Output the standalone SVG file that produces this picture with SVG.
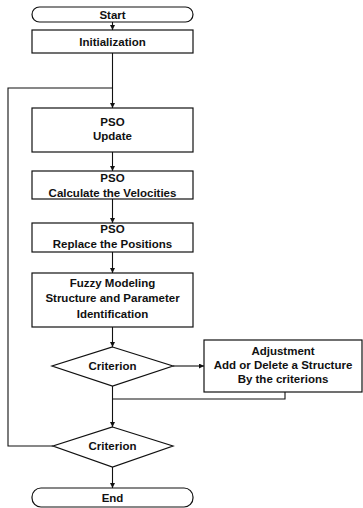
<svg xmlns="http://www.w3.org/2000/svg" width="363" height="508" viewBox="0 0 363 508">
<defs>
<marker id="ah" viewBox="0 0 6 6" refX="6" refY="3" markerWidth="5" markerHeight="5" orient="auto" markerUnits="userSpaceOnUse">
<path d="M0,0 L6,3 L0,6 z" fill="#111"/>
</marker>
</defs>
<style>
.b{fill:#fff;stroke:#111;stroke-width:1.2}
.t{font-family:"Liberation Sans",Arial,sans-serif;font-size:11.5px;font-weight:bold;fill:#111;text-anchor:middle}
.c{fill:none;stroke:#111;stroke-width:1.1}
</style>
<rect width="363" height="508" fill="#fff"/>
<g id="connectors">
<path class="c" d="M112.5,22 V30" marker-end="url(#ah)"/>
<path class="c" d="M112.5,53 V108" marker-end="url(#ah)"/>
<path class="c" d="M112.5,152 V171" marker-end="url(#ah)"/>
<path class="c" d="M112.5,199 V223" marker-end="url(#ah)"/>
<path class="c" d="M112.5,252 V273" marker-end="url(#ah)"/>
<path class="c" d="M112.5,327 V347" marker-end="url(#ah)"/>
<path class="c" d="M173,366 H204" marker-end="url(#ah)"/>
<path class="c" d="M112.5,386 V427" marker-end="url(#ah)"/>
<path class="c" d="M285,392 V399 H112.5"/>
<path class="c" d="M112.5,467 V488" marker-end="url(#ah)"/>
<path class="c" d="M53,446 H8 V88 H112.5"/>
</g>
<g id="start">
<rect class="b" x="32" y="7" width="161" height="15" rx="7.5"/>
<text class="t" x="112.5" y="18.5">Start</text>
</g>
<g id="init">
<rect class="b" x="32" y="30" width="161" height="23"/>
<text class="t" x="112.5" y="45.5">Initialization</text>
</g>
<g id="update">
<rect class="b" x="32" y="108" width="161" height="44"/>
<text class="t" x="112.5" y="126">PSO</text>
<text class="t" x="112.5" y="140">Update</text>
</g>
<g id="velocities">
<rect class="b" x="32" y="171" width="161" height="28"/>
<text class="t" x="112.5" y="182">PSO</text>
<text class="t" x="112.5" y="197">Calculate the Velocities</text>
</g>
<g id="positions">
<rect class="b" x="32" y="223" width="161" height="29"/>
<text class="t" x="112.5" y="233">PSO</text>
<text class="t" x="112.5" y="248">Replace the Positions</text>
</g>
<g id="fuzzy">
<rect class="b" x="32" y="273" width="161" height="54"/>
<text class="t" x="112.5" y="287">Fuzzy Modeling</text>
<text class="t" x="112.5" y="302">Structure and Parameter</text>
<text class="t" x="112.5" y="318">Identification</text>
</g>
<g id="criterion1">
<polygon class="b" points="112.5,347 173,366 112.5,386 52,366"/>
<text class="t" x="112.5" y="370">Criterion</text>
</g>
<g id="adjustment">
<rect class="b" x="204" y="340" width="158" height="52"/>
<text class="t" x="283" y="355">Adjustment</text>
<text class="t" x="283" y="369">Add or Delete a Structure</text>
<text class="t" x="283" y="383">By the criterions</text>
</g>
<g id="criterion2">
<polygon class="b" points="112.5,427 173,446 112.5,467 53,446"/>
<text class="t" x="112.5" y="450">Criterion</text>
</g>
<g id="end">
<rect class="b" x="32" y="488" width="161" height="19" rx="9"/>
<text class="t" x="112.5" y="501.5">End</text>
</g>
</svg>
